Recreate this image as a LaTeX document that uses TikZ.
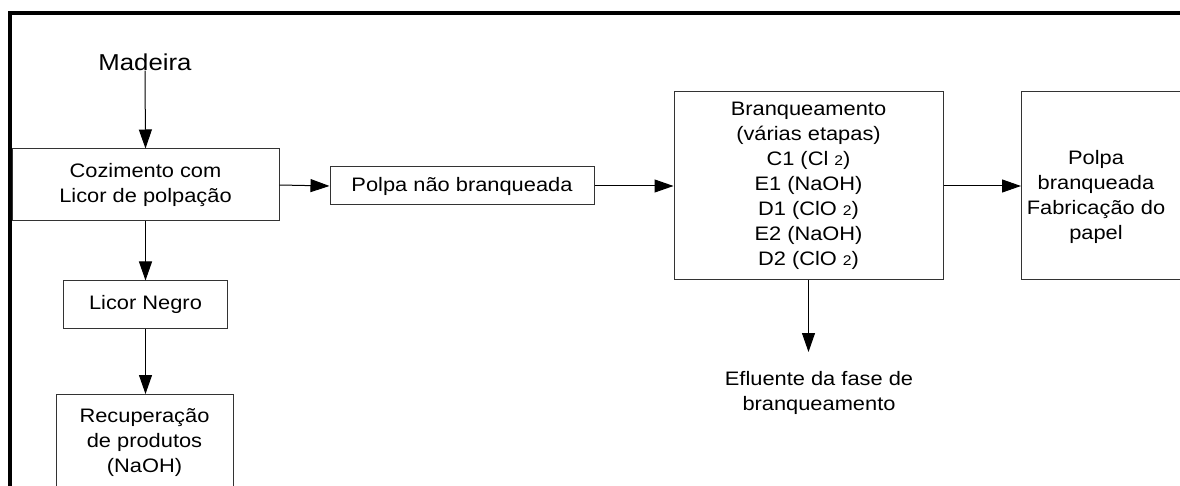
\documentclass[tikz,border=0pt]{standalone}
\usepackage{fontspec}
\setmainfont[FakeStretch=1.12]{Liberation Sans}
\usetikzlibrary{arrows.meta,positioning}

\newcommand{\idx}[1]{{\fontsize{14}{14}\selectfont #1}}

\tikzset{
  stage/.style={draw=black!80, line width=1pt, align=center, inner sep=0pt},
  flow/.style={-{Triangle[length=19pt,width=13pt]}, line width=1pt},
}

\begin{document}
\begin{tikzpicture}[x=1pt,y=-1pt,font=\fontsize{19.5}{25}\selectfont]
  \useasboundingbox (0,0) rectangle (1180,486);
  \clip (0,0) rectangle (1180,486);
  \draw[line width=4pt] (10,492) -- (10,13) -- (1190,13);

  % left column
  \node[inner sep=0pt,font=\fontsize{23}{26}\selectfont] (madeira) at (145,62) {Madeira};
  \node[stage, minimum width=267, minimum height=72] (cook) at (145.5,185) {Cozimento com\\Licor de polpação};
  \node[stage, minimum width=164, minimum height=47] (licor) at (145.5,304.5) {Licor Negro};
  \node[stage, minimum width=177, minimum height=96, anchor=north] (recup) at (144.5,394) {Recuperação\\de produtos\\(NaOH)};

  % main line
  \node[stage, minimum width=264, minimum height=38] (pnb) at (462,186) {Polpa não branqueada};
  \node[stage, minimum width=269, minimum height=188] (bleach) at (808.5,186)
    {Branqueamento\\(várias etapas)\\C1 (Cl \idx{2})\\E1 (NaOH)\\D1 (ClO \idx{2})\\E2 (NaOH)\\D2 (ClO \idx{2})};
  \node[stage, minimum width=190, minimum height=188, anchor=west] (final) at (1021,186) {};
  \node[align=center, inner sep=0pt] (finaltxt) at (1096,197) {Polpa\\branqueada\\Fabricação do\\papel};

  \coordinate (effend) at (808.5,352);
  \node[align=center, inner sep=0pt] (eff) at (819,393) {Efluente da fase de\\branqueamento};

  \draw[flow] (madeira.south) -- (cook.north);
  \draw[flow] (cook.south) -- (licor.north);
  \draw[flow] (licor.south) -- (licor.south |- recup.north);
  \draw[flow] (cook.east) -- (pnb.west);
  \draw[flow] (pnb.east) -- (bleach.west);
  \draw[flow] (bleach.east) -- (final.west);
  \draw[flow] (bleach.south) -- (effend);
\end{tikzpicture}
\end{document}
